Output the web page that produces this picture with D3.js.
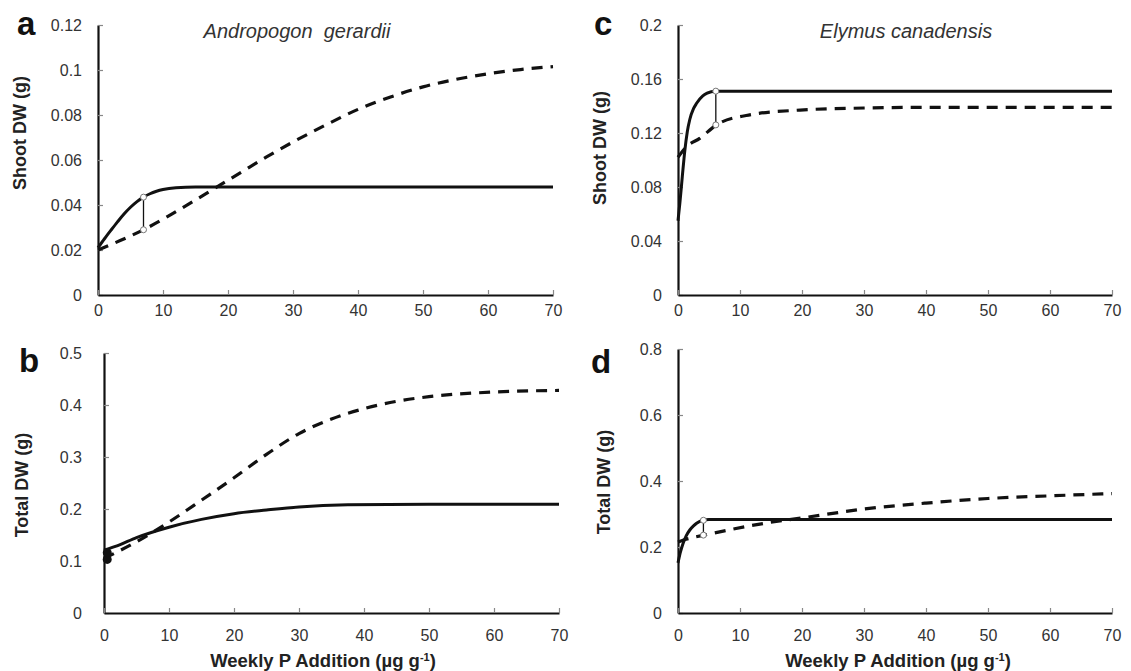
<!DOCTYPE html>
<html>
<head>
<meta charset="utf-8">
<script src="https://cdn.jsdelivr.net/npm/d3@7"></script>
<style>
  html, body { margin: 0; padding: 0; background: #fff; }
  svg { display: block; }
  text { font-family: Arial, "Liberation Sans", sans-serif; }
</style>
</head>
<body>
<svg id="chart" width="1131" height="671"></svg>
<script>
// ---- data -------------------------------------------------------------
const xTicks = [0, 10, 20, 30, 40, 50, 60, 70];

// a: Andropogon gerardii, shoot dry weight (g)
const aSolidX  = [0, 1, 2, 3, 4, 5, 6, 7, 8, 9, 10, 12, 15, 20, 30, 40, 50, 60, 70];
const aSolidY  = [0.021, 0.025, 0.0288, 0.0325, 0.036, 0.039, 0.0415, 0.0435, 0.045, 0.0461, 0.0469, 0.0477, 0.048, 0.048, 0.048, 0.048, 0.048, 0.048, 0.048];
const aDashX   = [0, 3.5, 7, 10.5, 14, 18, 22, 26, 30, 35, 40, 45, 50, 55, 60, 65, 70];
const aDashY   = [0.020, 0.0243, 0.029, 0.0345, 0.0405, 0.0475, 0.0545, 0.0615, 0.068, 0.0755, 0.0825, 0.088, 0.0925, 0.0958, 0.0983, 0.1002, 0.1015];
const aLink    = [7, 0.0435, 0.029];            // x, upper value, lower value
const aYTicks  = [0, 0.02, 0.04, 0.06, 0.08, 0.1, 0.12];

// b: Andropogon gerardii, total dry weight (g)
const bSolidX  = [0, 2, 5, 10, 15, 20, 25, 30, 37.5, 50, 60, 70];
const bSolidY  = [0.121, 0.129, 0.145, 0.165, 0.18, 0.191, 0.198, 0.204, 0.208, 0.209, 0.209, 0.209];
const bDashX   = [0, 5, 10, 15, 20, 25, 30, 35, 40, 45, 50, 60, 70];
const bDashY   = [0.105, 0.137, 0.175, 0.217, 0.26, 0.305, 0.345, 0.373, 0.393, 0.407, 0.416, 0.425, 0.428];
const bDots    = [[0.5, 0.103], [0.5, 0.116]];
const bYTicks  = [0, 0.1, 0.2, 0.3, 0.4, 0.5];

// c: Elymus canadensis, shoot dry weight (g)
const cSolidX  = [0, 0.3, 0.7, 1.1, 1.5, 1.9, 2.5, 3, 4, 4.7, 6, 10, 20, 70];
const cSolidY  = [0.055, 0.068, 0.088, 0.107, 0.121, 0.13, 0.138, 0.142, 0.1475, 0.1495, 0.151, 0.151, 0.151, 0.151];
const cDashX   = [0, 1.4, 3.5, 6.2, 11, 19.7, 30, 40, 70];
const cDashY   = [0.102, 0.110, 0.116, 0.126, 0.133, 0.137, 0.1385, 0.139, 0.139];
const cLink    = [6.1, 0.151, 0.126];
const cYTicks  = [0, 0.04, 0.08, 0.12, 0.16, 0.2];

// d: Elymus canadensis, total dry weight (g)
const dSolidX  = [0, 0.4, 0.8, 1.3, 1.9, 2.5, 3, 4, 5, 10, 70];
const dSolidY  = [0.152, 0.185, 0.21, 0.233, 0.2515, 0.264, 0.272, 0.281, 0.283, 0.283, 0.283];
const dDashX   = [0, 1, 2.5, 4.2, 8, 14, 20, 30, 40, 50, 60, 70];
const dDashY   = [0.215, 0.222, 0.229, 0.236, 0.251, 0.272, 0.288, 0.315, 0.333, 0.347, 0.355, 0.362];
const dLink    = [4.1, 0.281, 0.236];
const dYTicks  = [0, 0.2, 0.4, 0.6, 0.8];

const yLabelShoot = "Shoot DW (g)";
const yLabelTotal = "Total DW (g)";
const speciesA = "Andropogon\u00a0 gerardii";
const speciesC = "Elymus canadensis";

// ---- layout -----------------------------------------------------------
const panels = [
  { letter: "a", box: { l: 98,  r: 553,  b: 295, t: 25 },  ymax: 0.12, yTicks: aYTicks,
    solid: [aSolidX, aSolidY], dash: [aDashX, aDashY], link: aLink, yLabel: yLabelShoot,
    letterPos: [17, 35], yLabelPos: [20, 133], tickPad: 16, xPad: 10 },
  { letter: "b", box: { l: 104, r: 559,  b: 613, t: 353 }, ymax: 0.5,  yTicks: bYTicks,
    solid: [bSolidX, bSolidY], dash: [bDashX, bDashY], dots: bDots, yLabel: yLabelTotal,
    letterPos: [19, 372], yLabelPos: [22, 485], tickPad: 22, xPad: 17 },
  { letter: "c", box: { l: 678, r: 1112, b: 295, t: 25 },  ymax: 0.2,  yTicks: cYTicks,
    solid: [cSolidX, cSolidY], dash: [cDashX, cDashY], link: cLink, yLabel: yLabelShoot,
    letterPos: [594, 35], yLabelPos: [600, 148], tickPad: 16, xPad: 10 },
  { letter: "d", box: { l: 678, r: 1112, b: 613, t: 349 }, ymax: 0.8,  yTicks: dYTicks,
    solid: [dSolidX, dSolidY], dash: [dDashX, dDashY], link: dLink, yLabel: yLabelTotal,
    letterPos: [591, 373], yLabelPos: [604, 482], tickPad: 16, xPad: 17 }
];

const svg = d3.select("#chart");
const fmt = v => String(+v.toFixed(2));

panels.forEach(p => {
  const x = d3.scaleLinear().domain([0, 70]).range([p.box.l, p.box.r]);
  const y = d3.scaleLinear().domain([0, p.ymax]).range([p.box.b, p.box.t]);
  const g = svg.append("g");

  // axes with short inward ticks
  const yAxis = d3.axisLeft(y).tickValues(p.yTicks).tickFormat(fmt)
    .tickSizeInner(-5).tickSizeOuter(0).tickPadding(p.tickPad);
  const xAxis = d3.axisBottom(x).tickValues(xTicks).tickFormat(d3.format("d"))
    .tickSizeInner(-5).tickSizeOuter(0).tickPadding(p.xPad);

  const gy = g.append("g").attr("transform", `translate(${p.box.l},0)`).call(yAxis);
  const gx = g.append("g").attr("transform", `translate(0,${p.box.b})`).call(xAxis);
  [gx, gy].forEach(ax => {
    ax.select(".domain").attr("stroke", "#111").attr("stroke-width", 2.2);
    ax.selectAll(".tick line").attr("stroke", "#888").attr("stroke-width", 1.2);
    ax.selectAll(".tick text").attr("fill", "#333").attr("font-size", 16)
      .attr("font-family", "Arial, 'Liberation Sans', sans-serif");
  });

  // fitted curves
  const line = d3.line().x(d => x(d[0])).y(d => y(d[1])).curve(d3.curveMonotoneX);
  const pairs = arr => arr[0].map((v, i) => [v, arr[1][i]]);

  g.append("path").datum(pairs(p.dash)).attr("d", line)
    .attr("fill", "none").attr("stroke", "#111").attr("stroke-width", 3.2)
    .attr("stroke-dasharray", "11,8");
  g.append("path").datum(pairs(p.solid)).attr("d", line)
    .attr("fill", "none").attr("stroke", "#111").attr("stroke-width", 3);

  // vertical gap between the two curves
  if (p.link) {
    const [lx, hi, lo] = p.link;
    g.append("line").attr("x1", x(lx)).attr("x2", x(lx)).attr("y1", y(hi)).attr("y2", y(lo))
      .attr("stroke", "#111").attr("stroke-width", 1.3);
    [hi, lo].forEach(v => g.append("circle").attr("cx", x(lx)).attr("cy", y(v)).attr("r", 3)
      .attr("fill", "#fff").attr("stroke", "#777").attr("stroke-width", 1));
  }
  if (p.dots) {
    g.selectAll(".dot").data(p.dots).enter().append("circle")
      .attr("cx", d => x(d[0])).attr("cy", d => y(d[1])).attr("r", 4.5).attr("fill", "#111");
  }

  // panel letter and y label
  svg.append("text").attr("x", p.letterPos[0]).attr("y", p.letterPos[1])
    .attr("font-size", 33).attr("font-weight", "bold").attr("fill", "#111").text(p.letter);
  svg.append("text")
    .attr("transform", `translate(${p.yLabelPos[0]},${p.yLabelPos[1]}) rotate(-90)`)
    .attr("text-anchor", "middle").attr("dominant-baseline", "central")
    .attr("font-size", 18).attr("font-weight", "bold").attr("fill", "#222").text(p.yLabel);
});

// species titles
svg.append("text").attr("x", 297).attr("y", 38).attr("text-anchor", "middle")
  .attr("font-size", 20).attr("font-style", "italic").attr("fill", "#333").text(speciesA);
svg.append("text").attr("x", 906).attr("y", 38).attr("text-anchor", "middle")
  .attr("font-size", 20).attr("font-style", "italic").attr("fill", "#333").text(speciesC);

// shared x-axis titles
[323, 898].forEach(cx => {
  const t = svg.append("text").attr("x", cx).attr("y", 667).attr("text-anchor", "middle")
    .attr("font-size", 18.5).attr("font-weight", "bold").attr("fill", "#222");
  t.append("tspan").text("Weekly P Addition (µg g");
  t.append("tspan").attr("dy", -6).attr("font-size", 11).text("-1");
  t.append("tspan").attr("dy", 6).text(")");
});
</script>
</body>
</html>
